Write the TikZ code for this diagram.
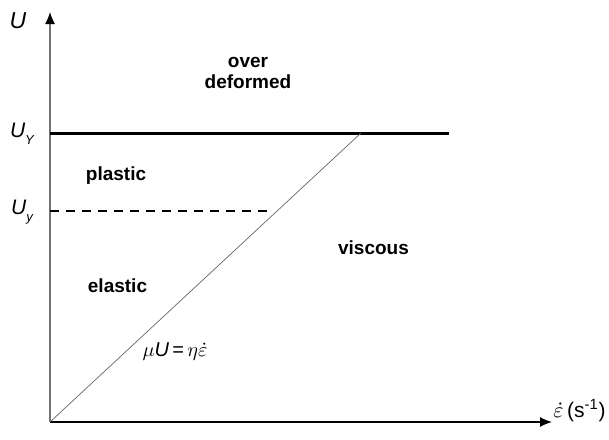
\documentclass[tikz,border=0pt]{standalone}
\usepackage{fontspec}
\setmainfont{Liberation Sans}
\usetikzlibrary{arrows.meta,positioning}
\tikzset{
  axis/.style={-{Latex[length=6pt,width=5pt,color=black]}, line width=0.6pt},
  yieldline/.style={line width=1.5pt, black},
  lowyield/.style={line width=0.55pt, dash pattern=on 4.5pt off 3.5pt},
  flowline/.style={line width=0.35pt, black!60},
  region/.style={font=\fontsize{9.5}{10.5}\selectfont\bfseries, align=center},
  axlabel/.style={font=\fontsize{10.5}{12}\selectfont\itshape, inner sep=0pt}
}

\begin{document}
\begin{tikzpicture}[x=0.5pt,y=-0.5pt]
  \useasboundingbox (0,0) rectangle (609,439);
  % axes
  \coordinate (O) at (50,422);
  \coordinate (ytop) at (50,12);
  \coordinate (xend) at (552,422);
  \draw[axis, black!55, line width=0.65pt] (O)--(ytop);
  \draw[axis] (O)--(xend);
  % limits
  \coordinate (UYa) at (50,133);
  \coordinate (UYb) at (449,133);
  \coordinate (Uya) at (50,211);
  \coordinate (Uyb) at (274,211);
  \coordinate (meet) at (361,133);
  \draw[yieldline] (UYa)--(UYb);
  \draw[lowyield] (Uya)--(Uyb);
  \draw[flowline] (O)--(meet);
  % labels
  \node[axlabel] (U) at (18,21) {\fontsize{11.5}{12}\selectfont U};
  \node[axlabel] (UY) at (22,134) {U\raisebox{-0.6ex}{\fontsize{6.5}{8}\selectfont Y}};
  \node[axlabel] (Uy) at (22,212) {U\raisebox{-0.6ex}{\fontsize{6.5}{8}\selectfont y}};
  \node[axlabel, font=\fontsize{10.5}{12}\selectfont, anchor=base west] (xlab) at (553,417)
    {$\dot{\varepsilon}$\,(s\textsuperscript{-1})};
  \node[region] (over) at (248,73) {over\\deformed};
  \node[region] (plastic) at (116,176) {plastic};
  \node[region] (elastic) at (117.5,286) {elastic};
  \node[region] (viscous) at (373.5,248) {viscous};
  \node[font=\fontsize{10}{12}\selectfont] (law) at (175,352)
    {$\mu$\textit{U}\,=\,$\eta\dot{\varepsilon}$};
\end{tikzpicture}
\end{document}
